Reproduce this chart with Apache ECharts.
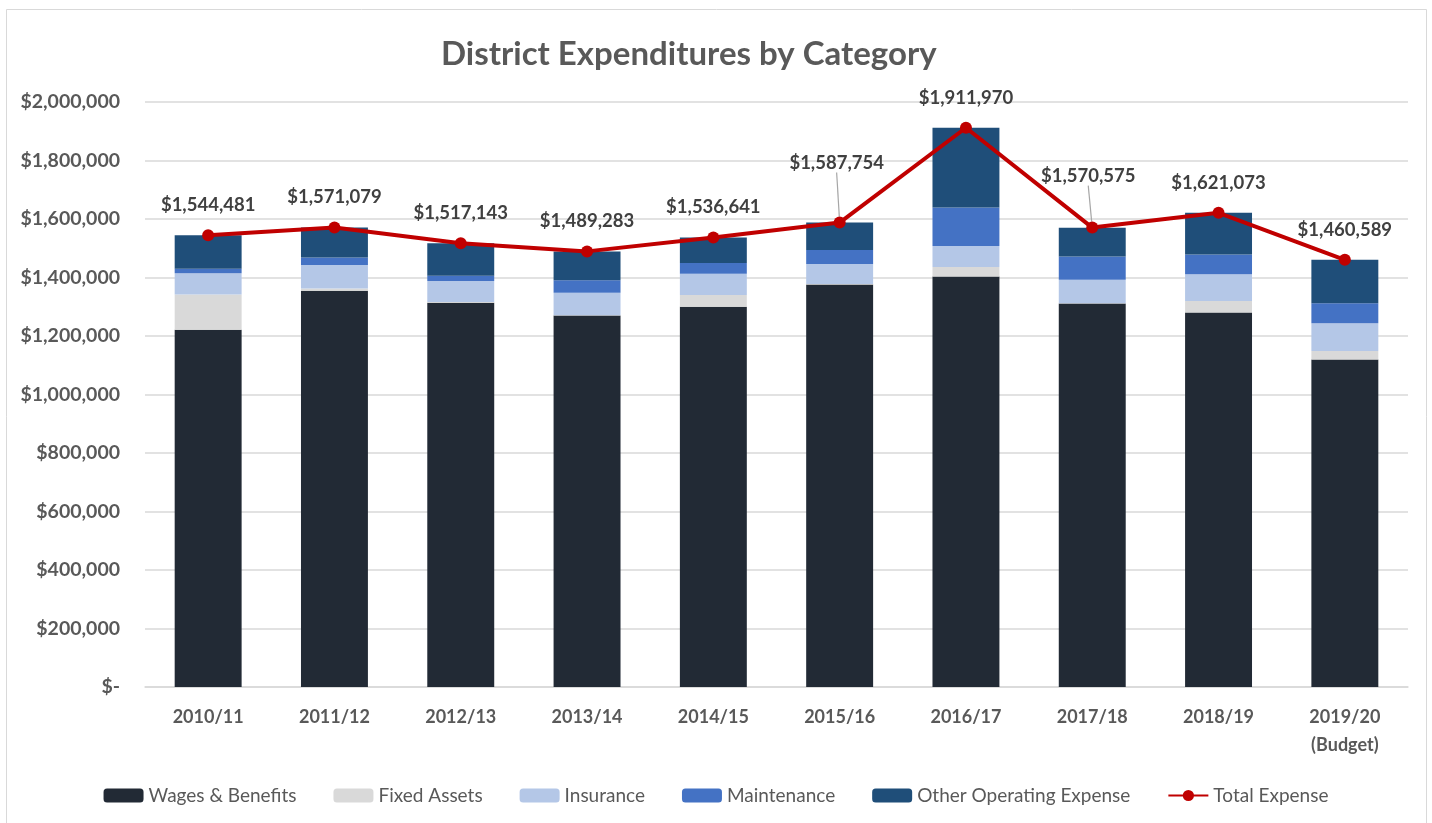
<!DOCTYPE html>
<html>
<head>
<meta charset="utf-8">
<script src="https://cdn.jsdelivr.net/npm/echarts@6/dist/echarts.min.js"></script>
<style>
html,body{margin:0;padding:0;background:#fff;}
#chart{width:1432px;height:823px;}
</style>
</head>
<body>
<div id="chart"></div>
<script>
var categories = ['2010/11','2011/12','2012/13','2013/14','2014/15','2015/16','2016/17','2017/18','2018/19','2019/20\n(Budget)'];
var wages       = [1221500,1355000,1314000,1270000,1300000,1376000,1403000,1311000,1280000,1120000];
var fixedAssets = [120000,   7000,   2000,   1000,  40000,   2000,  33000,   1000,  40000,  29000];
var insurance   = [ 73000,  81000,  72000,  77000,  73000,  68000,  72000,  80000,  91000,  95000];
var maintenance = [ 15000,  25000,  18000,  43000,  37000,  48000, 131000,  80000,  68000,  68000];
var otherOps    = [115000, 103000, 111000,  98000,  87000,  94000, 273000,  98500, 142000, 148600];
var totals      = [1544481,1571079,1517143,1489283,1536641,1587754,1911970,1570575,1621073,1460589];
var yTicks = [0,200000,400000,600000,800000,1000000,1200000,1400000,1600000,1800000,2000000];
var leaderLabels = [5,7];

var FONT = 'Lato';
function money(v){
  if (v === 0) return '$-';
  return '$' + v.toString().replace(/\B(?=(\d{3})+(?!\d))/g, ',');
}
// label offsets (pixel tweaks for leader-line labels)
var labelDx = [0,0,0,0,0,-3,0,-4,0,0];
var labelDy = [-1,-1,-1,-1,-1,-30,0,-22,0,0];

var chart = echarts.init(document.getElementById('chart'), null, {renderer:'canvas'});
function barSeries(name, data, color){
  return {name:name, type:'bar', stack:'total', data:data, barWidth:'53%',
    itemStyle:{color:color}, emphasis:{disabled:true}};
}
var totalData = totals.map(function(v, i){
  return {value:v, labelLine:{show: leaderLabels.indexOf(i) >= 0}};
});
var option = {
  animation:false,
  backgroundColor:'#ffffff',
  textStyle:{fontFamily:FONT},
  title:{
    text:'District Expenditures by Category',
    left:436, top:33,
    textStyle:{fontFamily:FONT, fontSize:33, fontWeight:'bold', color:'#595959'}
  },
  graphic:[{
    type:'rect', shape:{x:6.5, y:9.5, width:1420, height:830},
    style:{fill:'none', stroke:'#d9d9d9', lineWidth:1}, silent:true, z:-1
  }],
  grid:{left:145, right:24, top:102, bottom:136, containLabel:false},
  legend:{
    bottom:13, left:'center',
    itemWidth:40, itemHeight:14, itemGap:37,
    textStyle:{fontFamily:FONT, fontSize:19, color:'#595959'},
    data:['Wages & Benefits','Fixed Assets','Insurance','Maintenance','Other Operating Expense','Total Expense']
  },
  xAxis:{
    type:'category', data:categories,
    axisLine:{show:true, lineStyle:{color:'#d9d9d9', width:1.5}},
    axisTick:{show:false},
    axisLabel:{fontFamily:FONT, fontSize:18, fontWeight:'bold', color:'#595959', margin:16, lineHeight:28, interval:0}
  },
  yAxis:{
    type:'value', min:0, max:2000000, interval:200000,
    axisLine:{show:false}, axisTick:{show:false},
    splitLine:{lineStyle:{color:'#d9d9d9', width:1.5}},
    axisLabel:{fontFamily:FONT, fontSize:19.5, fontWeight:'bold', color:'#595959', margin:25,
      formatter:function(v){ return yTicks.indexOf(v) >= 0 ? money(v) : ''; }}
  },
  series:[
    barSeries('Wages & Benefits', wages, '#222A35'),
    barSeries('Fixed Assets', fixedAssets, '#D9D9D9'),
    barSeries('Insurance', insurance, '#B4C7E7'),
    barSeries('Maintenance', maintenance, '#4472C4'),
    barSeries('Other Operating Expense', otherOps, '#1F4E79'),
    {
      name:'Total Expense', type:'line', data:totalData,
      symbol:'circle', symbolSize:12,
      lineStyle:{color:'#C00000', width:4},
      itemStyle:{color:'#C00000'},
      emphasis:{disabled:true},
      z:10,
      label:{
        show:true, position:'top', distance:14,
        fontFamily:FONT, fontSize:18.5, fontWeight:'bold', color:'#404040',
        formatter:function(p){ return money(p.value); }
      },
      labelLine:{show:false, lineStyle:{color:'#a6a6a6', width:1.2}},
      labelLayout:function(p){
        return {dx:labelDx[p.dataIndex], dy:labelDy[p.dataIndex]};
      }
    }
  ]
};
chart.setOption(option);
</script>
</body>
</html>
